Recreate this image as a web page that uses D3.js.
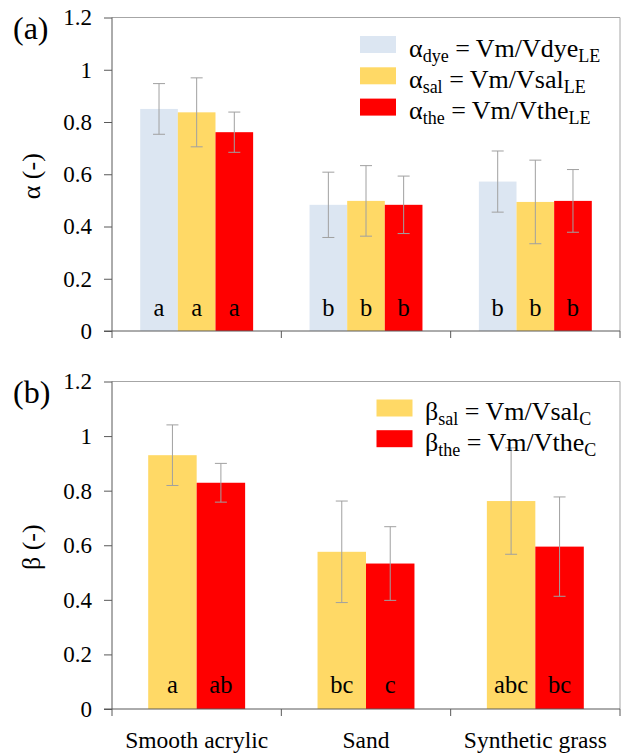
<!DOCTYPE html>
<html>
<head>
<meta charset="utf-8">
<script src="https://cdn.jsdelivr.net/npm/d3@7"></script>
<style>
  html, body { margin: 0; padding: 0; background: #fff; }
  svg { display: block; }
</style>
</head>
<body>
<svg id="chart" width="627" height="755" font-family="Liberation Serif"></svg>
<script>
// Surface categories shared by both panels
const categories = ["Smooth acrylic", "Sand", "Synthetic grass"];
const yTicks = [0, 0.2, 0.4, 0.6, 0.8, 1, 1.2];

// Panel (a): alpha ratios, means and standard deviations
const alphaSeries = ["dye", "sal", "the"];
const alphaDye = [0.850, 0.483, 0.572];
const alphaSal = [0.837, 0.498, 0.494];
const alphaThe = [0.761, 0.483, 0.498];
const alphaDyeSd = [0.097, 0.125, 0.117];
const alphaSalSd = [0.132, 0.135, 0.160];
const alphaTheSd = [0.077, 0.110, 0.120];
const alphaDyeLetters = ["a", "b", "b"];
const alphaSalLetters = ["a", "b", "b"];
const alphaTheLetters = ["a", "b", "b"];

// Panel (b): beta ratios
const betaSeries = ["sal", "the"];
const betaSal = [0.930, 0.576, 0.762];
const betaThe = [0.829, 0.533, 0.595];
const betaSalSd = [0.111, 0.186, 0.195];
const betaTheSd = [0.071, 0.135, 0.182];
const betaSalLetters = ["a", "bc", "abc"];
const betaTheLetters = ["ab", "c", "bc"];

const colors = { dye: "#dce6f2", sal: "#ffd966", the: "#ff0000" };
const FONT = "Liberation Serif";

const svg = d3.select("#chart");

function panel(opts) {
  const { top, bottom, left, right, series, values, sds, letters,
          pad, tag, symbol, legend, letterY } = opts;
  const g = svg.append("g").attr("font-family", FONT);

  const x = d3.scaleBand().domain(categories).range([left, right]);
  const xi = d3.scaleBand().domain(series).range([pad, x.bandwidth() - pad]);
  const y = d3.scaleLinear().domain([0, 1.2]).range([bottom, top]);

  // plot frame (top and right edges)
  g.append("path")
    .attr("d", `M${left},${top}H${right}V${bottom}`)
    .attr("fill", "none").attr("stroke", "#a6a6a6").attr("stroke-width", 1);

  // bars
  const rows = [];
  categories.forEach((c, ci) => series.forEach((s, si) => rows.push({
    c, s, v: values[si][ci], sd: sds[si][ci], L: letters[si][ci]
  })));

  g.selectAll("rect.bar").data(rows).join("rect")
    .attr("class", "bar")
    .attr("x", d => x(d.c) + xi(d.s))
    .attr("width", xi.bandwidth())
    .attr("y", d => y(d.v))
    .attr("height", d => y(0) - y(d.v))
    .attr("fill", d => colors[d.s]);

  // error bars
  const eb = g.selectAll("g.err").data(rows).join("g").attr("class", "err")
    .attr("stroke", "#a0a0a0").attr("stroke-width", 1);
  const cx = d => x(d.c) + xi(d.s) + xi.bandwidth() / 2;
  eb.append("line")
    .attr("x1", cx).attr("x2", cx)
    .attr("y1", d => y(d.v + d.sd)).attr("y2", d => y(d.v - d.sd));
  eb.append("line")
    .attr("x1", d => cx(d) - 6).attr("x2", d => cx(d) + 6)
    .attr("y1", d => y(d.v + d.sd)).attr("y2", d => y(d.v + d.sd));
  eb.append("line")
    .attr("x1", d => cx(d) - 6).attr("x2", d => cx(d) + 6)
    .attr("y1", d => y(d.v - d.sd)).attr("y2", d => y(d.v - d.sd));

  // significance letters
  g.selectAll("text.sig").data(rows).join("text")
    .attr("class", "sig")
    .attr("x", cx)
    .attr("y", letterY)
    .attr("text-anchor", "middle")
    .attr("font-family", FONT)
    .attr("font-size", 24.5)
    .attr("fill", "#000")
    .text(d => d.L);

  // y axis
  const yAxis = g.append("g").attr("transform", `translate(${left},0)`)
    .call(d3.axisLeft(y).tickValues(yTicks).tickSize(8).tickPadding(12)
      .tickFormat(d => d3.format("~g")(d)));
  yAxis.attr("font-family", FONT).attr("font-size", 23);
  yAxis.select(".domain").attr("stroke", "#595959").attr("d", `M0,${top}V${bottom + 7}`);
  yAxis.selectAll(".tick line").attr("stroke", "#595959");
  yAxis.selectAll(".tick text").attr("fill", "#000")
    .attr("font-family", FONT).attr("font-size", 23);

  // x axis with ticks at the category boundaries
  const bounds = [left, ...categories.slice(1).map(c => x(c)), right];
  const xa = g.append("g");
  xa.append("line").attr("x1", left - 8).attr("x2", right)
    .attr("y1", bottom).attr("y2", bottom).attr("stroke", "#595959");
  xa.selectAll("line.tk").data(bounds.slice(1)).join("line").attr("class", "tk")
    .attr("x1", d => d).attr("x2", d => d)
    .attr("y1", bottom).attr("y2", bottom + 7).attr("stroke", "#595959");

  // panel tag
  g.append("text").attr("x", 13).attr("y", top + 21)
    .attr("font-family", FONT).attr("font-size", 32).text(tag);

  // y label
  g.append("text")
    .attr("transform", `translate(${40},${(top + bottom) / 2 + 2}) rotate(-90)`)
    .attr("text-anchor", "middle")
    .attr("font-family", FONT).attr("font-size", 26)
    .text(symbol + " (-)");

  // legend
  legend.items.forEach((it, i) => {
    const ly = legend.y + i * legend.step;
    g.append("rect").attr("x", legend.x).attr("y", ly)
      .attr("width", 36).attr("height", 17).attr("fill", colors[it.s]);
    const t = g.append("text").attr("x", legend.x + legend.textDx)
      .attr("y", ly + 20.5)
      .attr("font-family", FONT).attr("font-size", 26);
    t.append("tspan").text(symbol);
    t.append("tspan").attr("font-size", 18).attr("dy", 5).text(it.s);
    t.append("tspan").attr("dy", -5).text(" = Vm/V" + it.s);
    t.append("tspan").attr("font-size", 18).attr("dy", 5).text(legend.sub);
  });

  return g;
}

panel({
  top: 17.5, bottom: 331, left: 112, right: 620,
  series: alphaSeries,
  values: [alphaDye, alphaSal, alphaThe],
  sds: [alphaDyeSd, alphaSalSd, alphaTheSd],
  letters: [alphaDyeLetters, alphaSalLetters, alphaTheLetters],
  pad: 28.2, tag: "(a)", symbol: "α", letterY: 316,
  legend: { x: 360, y: 36, step: 31.3, textDx: 49, sub: "LE",
    items: alphaSeries.map(s => ({ s })) }
});

panel({
  top: 381.5, bottom: 709, left: 112, right: 620,
  series: betaSeries,
  values: [betaSal, betaThe],
  sds: [betaSalSd, betaTheSd],
  letters: [betaSalLetters, betaTheLetters],
  pad: 36.2, tag: "(b)", symbol: "β", letterY: 693,
  legend: { x: 376.5, y: 399.5, step: 30.7, textDx: 48.5, sub: "C",
    items: betaSeries.map(s => ({ s })) }
});

// category labels under the lower panel
const xb = d3.scaleBand().domain(categories).range([112, 620]);
svg.selectAll("text.cat").data(categories).join("text")
  .attr("class", "cat")
  .attr("x", d => xb(d) + xb.bandwidth() / 2)
  .attr("y", 748)
  .attr("text-anchor", "middle")
  .attr("font-family", FONT).attr("font-size", 23.5)
  .text(d => d);
</script>
</body>
</html>
